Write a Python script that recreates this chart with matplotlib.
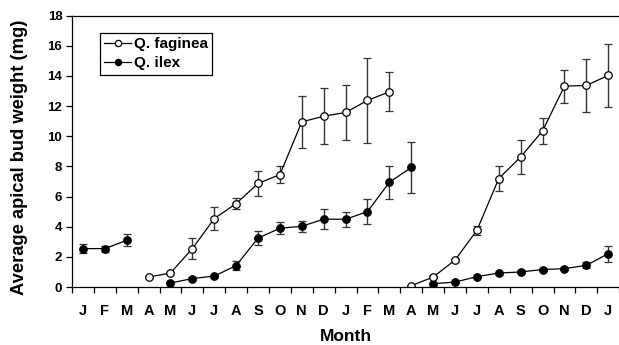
import numpy as np
import matplotlib.pyplot as plt

plt.rcParams['font.family'] = ['Liberation Sans', 'DejaVu Sans']
plt.rcParams['font.weight'] = 'bold'

months = ['J', 'F', 'M', 'A', 'M', 'J', 'J', 'A', 'S', 'O', 'N', 'D',
          'J', 'F', 'M', 'A', 'M', 'J', 'J', 'A', 'S', 'O', 'N', 'D', 'J']

# Q. faginea: first growth season (Apr .. Mar) and second (Apr .. Jan)
fag_x1 = np.arange(3, 15)
fag_y1 = [0.66, 0.93, 2.55, 4.54, 5.54, 6.87, 7.46, 10.96, 11.33, 11.58, 12.38, 12.95]
fag_e1 = [0.05, 0.05, 0.70, 0.78, 0.39, 0.83, 0.55, 1.74, 1.85, 1.80, 2.80, 1.30]
fag_x2 = np.arange(15, 25)
fag_y2 = [0.09, 0.66, 1.79, 3.76, 7.20, 8.63, 10.36, 13.33, 13.37, 14.04]
fag_e2 = [0.0, 0.05, 0.10, 0.30, 0.82, 1.13, 0.86, 1.10, 1.74, 2.08]

# Q. ilex: winter buds, first season (May .. Apr), second season (May .. Jan)
ilex_x0 = np.arange(0, 3)
ilex_y0 = [2.55, 2.55, 3.10]
ilex_e0 = [0.30, 0.20, 0.39]
ilex_x1 = np.arange(4, 16)
ilex_y1 = [0.27, 0.56, 0.73, 1.42, 3.25, 3.90, 4.03, 4.50, 4.50, 5.00, 6.95, 7.93]
ilex_e1 = [0.05, 0.10, 0.10, 0.28, 0.47, 0.40, 0.38, 0.67, 0.49, 0.83, 1.10, 1.70]
ilex_x2 = np.arange(16, 25)
ilex_y2 = [0.22, 0.33, 0.69, 0.93, 1.00, 1.16, 1.22, 1.44, 2.22]
ilex_e2 = [0.05, 0.05, 0.10, 0.10, 0.10, 0.10, 0.10, 0.20, 0.53]

fig = plt.figure(figsize=(6.19, 3.45), dpi=100)
ax = fig.add_axes([0.1163, 0.168, 0.884, 0.7865])

ebkw = dict(ecolor='#333333', elinewidth=1.0, capsize=2.8, capthick=1.0,
            color='k', lw=0.9, marker='o', ms=5.4, mec='k', mew=0.9)

for x, y, e in [(ilex_x0, ilex_y0, ilex_e0), (ilex_x1, ilex_y1, ilex_e1),
                (ilex_x2, ilex_y2, ilex_e2)]:
    ax.errorbar(x, y, yerr=e, mfc='k', **ebkw)
for x, y, e in [(fag_x1, fag_y1, fag_e1), (fag_x2, fag_y2, fag_e2)]:
    ax.errorbar(x, y, yerr=e, mfc='white', **ebkw)

# legend handles
h1, = ax.plot([], [], '-o', color='k', lw=0.9, ms=4.5, mfc='white', mec='k', mew=0.9)
h2, = ax.plot([], [], '-o', color='k', lw=0.9, ms=4.5, mfc='k', mec='k', mew=0.9)
leg = ax.legend([h1, h2], ['Q. faginea', 'Q. ilex'], loc='upper left',
                bbox_to_anchor=(0.051, 0.937), fancybox=False, framealpha=1,
                edgecolor='k', handlelength=1.75, handletextpad=0.15,
                borderpad=0.3, labelspacing=0.3, borderaxespad=0,
                prop={'size': 11, 'weight': 'bold'})
leg.get_frame().set_linewidth(0.9)

ax.set_xlim(-0.46, 24.4)
ax.set_ylim(0, 18)
ax.set_yticks(np.arange(0, 19, 2))
ax.set_xticks(np.arange(len(months)))
ax.set_xticklabels(months)
ax.set_xticks(np.arange(-0.5, 25, 1), minor=True)
ax.tick_params(axis='x', which='major', length=0, pad=12, labelsize=10.5)
ax.tick_params(axis='x', which='minor', length=4, width=0.9, direction='out')
ax.tick_params(axis='y', length=4, width=0.9, direction='out', labelsize=9.5, pad=3)

ax.spines['right'].set_visible(False)
for s in ['left', 'bottom', 'top']:
    ax.spines[s].set_linewidth(0.9)

ax.set_xlabel('Month', fontsize=12.5, fontweight='bold', labelpad=8)
ax.set_ylabel('Average apical bud weight (mg)', fontsize=13.2, fontweight='bold')
ax.yaxis.set_label_coords(-0.08, 0.479)

fig.savefig('out.png', dpi=100)
